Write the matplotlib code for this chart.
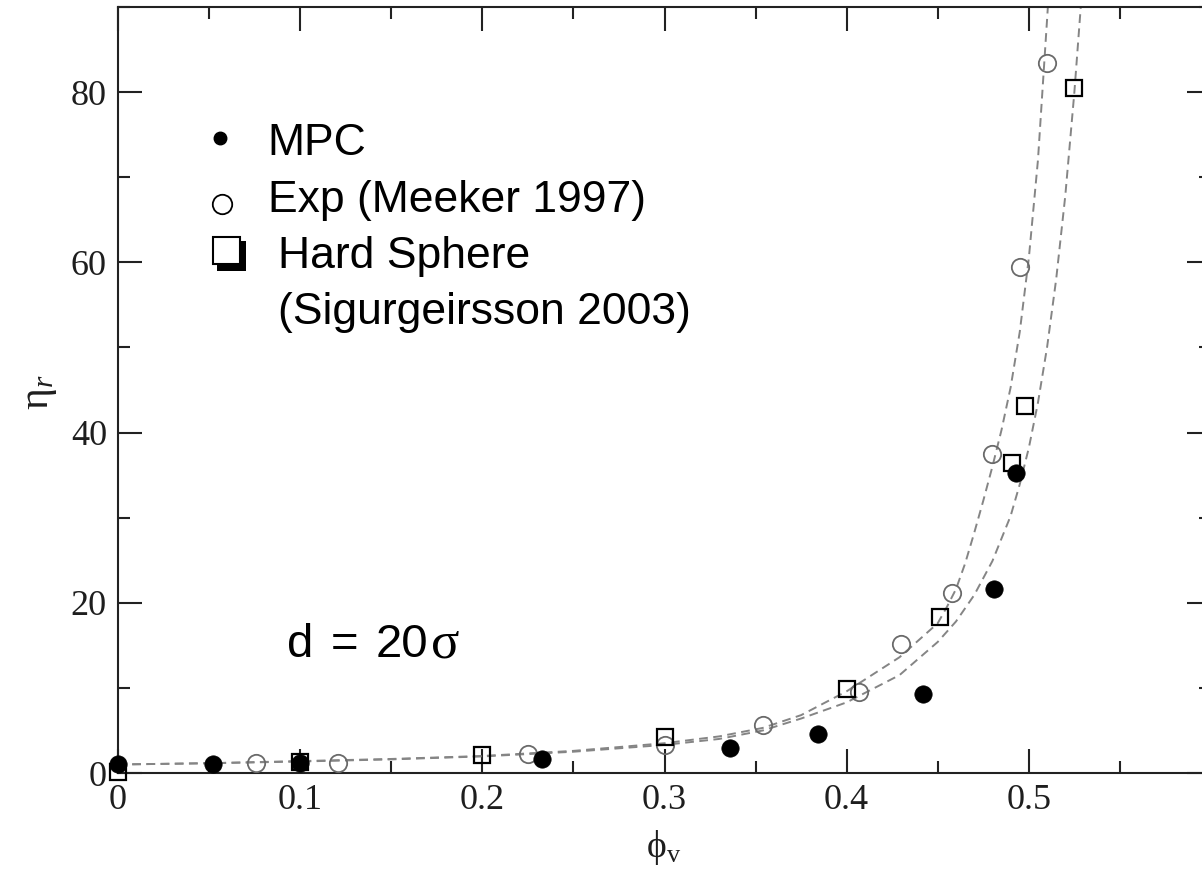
import matplotlib
matplotlib.use("Agg")
import matplotlib.pyplot as plt
from matplotlib.transforms import Affine2D
from matplotlib.lines import Line2D
from matplotlib.patches import Rectangle
from matplotlib.ticker import MultipleLocator, FuncFormatter

# ---- data -------------------------------------------------------------
# MPC simulation (filled circles)
phi_mpc = [0.0, 0.052, 0.100, 0.233, 0.336, 0.384, 0.442, 0.481, 0.493]
eta_mpc = [1.1, 1.1, 1.2, 1.7, 2.9, 4.6, 9.3, 21.6, 35.2]

# Experiment, Meeker 1997 (open circles)
phi_exp = [0.076, 0.121, 0.225, 0.300, 0.354, 0.407, 0.430, 0.458, 0.480, 0.495, 0.510]
eta_exp = [1.2, 1.2, 2.2, 3.3, 5.6, 9.5, 15.1, 21.2, 37.5, 59.4, 83.4]

# Hard spheres, Sigurgeirsson 2003 (open squares)
phi_hs = [0.0, 0.100, 0.200, 0.300, 0.400, 0.451, 0.491, 0.498, 0.525]
eta_hs = [0.1, 1.3, 2.1, 4.2, 9.9, 18.3, 36.4, 43.1, 80.5]

# dashed fit curves
fit_exp_phi = [0.0, 0.05, 0.10, 0.15, 0.20, 0.25, 0.30, 0.33, 0.354, 0.375, 0.40,
               0.429, 0.45, 0.455, 0.46, 0.465, 0.47, 0.475, 0.48, 0.485, 0.49,
               0.495, 0.50, 0.505, 0.51, 0.5125]
fit_exp_eta = [1.0, 1.15, 1.4, 1.65, 2.0, 2.6, 3.5, 4.3, 5.3, 6.8, 9.6,
               13.6, 17.6, 19.5, 21.6, 24.6, 28.2, 32.0, 36.0, 40.3, 45.3,
               51.8, 60.5, 72.0, 88.5, 97.0]

fit_hs_phi = [0.0, 0.05, 0.10, 0.15, 0.20, 0.25, 0.30, 0.33, 0.354, 0.375, 0.40,
              0.429, 0.45, 0.46, 0.47, 0.48, 0.49, 0.495, 0.50, 0.505, 0.51,
              0.515, 0.52, 0.525, 0.5285, 0.531]
fit_hs_eta = [1.0, 1.15, 1.35, 1.6, 1.95, 2.5, 3.3, 4.0, 5.0, 6.4, 8.3,
              11.5, 15.4, 17.8, 20.9, 24.9, 30.2, 33.9, 38.2, 43.5, 50.0,
              58.0, 67.8, 80.0, 90.0, 97.0]

# ---- figure -----------------------------------------------------------
W, H = 1202, 871
fig = plt.figure(figsize=(W / 100, H / 100), dpi=100)
fig.patch.set_facecolor("white")
# pixel coordinates measured from the top-left corner
px = Affine2D().scale(1 / W, -1 / H).translate(0, 1) + fig.transFigure

ax = fig.add_axes([118 / W, (H - 773) / H, (1211 - 118) / W, (773 - 7) / H])
ax.set_xlim(0, 0.6)
ax.set_ylim(0, 90)

dash = (0, (4.5, 2.8))
ax.plot(fit_exp_phi, fit_exp_eta, ls=dash, color="#858585", lw=1.4, zorder=2)
ax.plot(fit_hs_phi, fit_hs_eta, ls=dash, color="#858585", lw=1.4, zorder=2)

ax.plot(phi_exp, eta_exp, ls="none", marker="o", ms=12.5, mfc="none",
        mec="#6a6a6a", mew=1.3, clip_on=False, zorder=3)
ax.plot(phi_hs, eta_hs, ls="none", marker="s", ms=11.5, mfc="none",
        mec="black", mew=1.6, clip_on=False, zorder=4)
ax.plot(phi_mpc, eta_mpc, ls="none", marker="o", ms=12.5, color="black",
        mew=0.5, clip_on=False, zorder=5)

# axes frame and ticks
for sp in ax.spines.values():
    sp.set_linewidth(1.5)
    sp.set_color("#222222")

ax.xaxis.set_major_locator(MultipleLocator(0.1))
ax.xaxis.set_minor_locator(MultipleLocator(0.05))
ax.yaxis.set_major_locator(MultipleLocator(20))
ax.yaxis.set_minor_locator(MultipleLocator(10))


def xfmt(v, pos):
    if v > 0.55:
        return ""
    return "0" if abs(v) < 1e-9 else f"{v:.1f}"


ax.xaxis.set_major_formatter(FuncFormatter(xfmt))
ax.yaxis.set_major_formatter(FuncFormatter(lambda v, p: f"{v:.0f}" if v <= 80 else ""))

ax.tick_params(which="both", direction="in", top=True, right=True,
               width=1.5, color="#222222")
ax.tick_params(which="major", length=17.5, pad=8, labelsize=26,
               labelcolor="#1e1e1e")
ax.tick_params(which="minor", length=8.5)
for lab in ax.get_xticklabels() + ax.get_yticklabels():
    lab.set_family("Liberation Serif")

plt.rcParams["mathtext.fontset"] = "custom"
plt.rcParams["mathtext.rm"] = "Liberation Serif"
plt.rcParams["mathtext.it"] = "Liberation Serif:italic"

# axis labels
fig.text(38, 392, r"$\mathrm{\eta}_{r}$", transform=px, rotation=90,
         ha="center", va="center", fontsize=30, color="#1e1e1e")
fig.text(664, 847, r"$\mathrm{\phi}_{\mathrm{v}}$", transform=px,
         ha="center", va="center", fontsize=27, color="#1e1e1e")

# legend drawn as free text with its own symbols
sans = "Liberation Sans"
fs = 32
fig.add_artist(Line2D([220], [138], transform=px, ls="none", marker="o",
                      ms=9, color="black"))
fig.add_artist(Line2D([222], [204], transform=px, ls="none", marker="o",
                      ms=14, mfc="none", mec="black", mew=1.3))
fig.add_artist(Rectangle((217, 241), 29, 30, transform=px,
                         facecolor="black", edgecolor="none"))
fig.add_artist(Rectangle((213, 237), 27, 27, transform=px,
                         facecolor="white", edgecolor="black", lw=1.5))

fig.text(267, 155, "MPC", transform=px, fontsize=fs, family=sans, va="baseline")
fig.text(268, 212, "Exp (Meeker 1997)", transform=px, fontsize=fs, family=sans,
         va="baseline")
fig.text(278, 268, "Hard Sphere", transform=px, fontsize=fs, family=sans,
         va="baseline")
fig.text(278, 324, "(Sigurgeirsson 2003)", transform=px, fontsize=fs,
         family=sans, va="baseline")

# panel annotation (widely spaced pieces)
fa = 34
fig.text(287, 657, "d", transform=px, fontsize=fa, family=sans, va="baseline")
fig.text(331, 657, "=", transform=px, fontsize=fa, family=sans, va="baseline")
fig.text(376, 657, "20", transform=px, fontsize=fa, family=sans, va="baseline")
fig.text(431, 657, "σ", transform=px, fontsize=38, family="Liberation Serif",
         va="baseline")

fig.savefig("out.png", dpi=100)
